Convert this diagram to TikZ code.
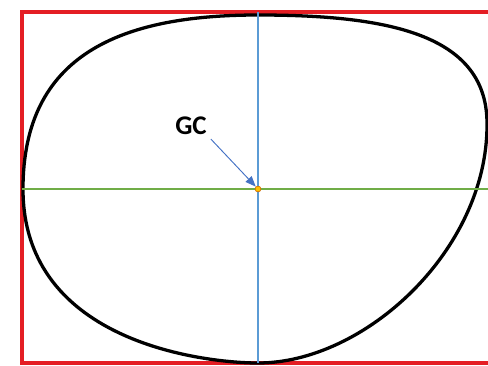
\documentclass[tikz,border=0pt]{standalone}
\usepackage{fontspec}
\setmainfont{Carlito}
\usetikzlibrary{arrows.meta}
\definecolor{framered}{RGB}{228,30,36}
\definecolor{axisblue}{RGB}{91,155,213}
\definecolor{axisgreen}{RGB}{112,173,71}
\definecolor{arrowblue}{RGB}{68,114,196}
\definecolor{dotorange}{RGB}{255,192,0}
\begin{document}
\begin{tikzpicture}[x=0.03cm, y=-0.03cm,
    outline/.style={line width=2.8pt, black},
    gcarrow/.style={arrowblue, line width=0.8pt, -{Triangle[length=9pt, width=7pt]}},
    gcdot/.style={circle, fill=dotorange, draw=orange!80!black, line width=0.5pt, inner sep=0pt, minimum size=5pt}]
    \useasboundingbox (0,0) rectangle (488,365);
    \clip (0,0) rectangle (488,365);

    % Draw the bounding frame
    \draw[framered, line width=3.8pt] (22,12) rectangle (492,363);

    % Draw the closed outline
    \draw[outline] (258,15) .. controls (390,15) and (488,35) .. (487,125)
      .. controls (487,250) and (365,363) .. (258,363)
      .. controls (210,363) and (23,345) .. (23,189)
      .. controls (23,55) and (120,15) .. cycle;

    % Draw the axes through the centre
    \draw[axisgreen, line width=2pt] (22,189) -- (488,189);
    \draw[axisblue, line width=1.6pt] (258,12) -- (258,363);

    % Mark the centre and label it
    \node[gcdot] (gc) at (258,189) {};
    \node (gclabel) at (191,126) {\fontsize{23}{27}\selectfont\bfseries GC};
    \draw[gcarrow] (gclabel.south east) -- (gc);
\end{tikzpicture}
\end{document}
